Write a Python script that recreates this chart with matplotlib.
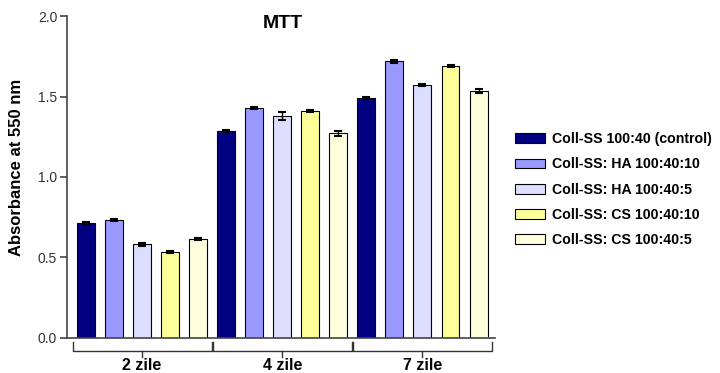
import matplotlib.pyplot as plt
import numpy as np

plt.rcParams['font.family'] = ['Liberation Sans', 'DejaVu Sans']

groups = ["2 zile", "4 zile", "7 zile"]
series = ["Coll-SS 100:40 (control)", "Coll-SS: HA 100:40:10", "Coll-SS: HA 100:40:5",
          "Coll-SS: CS 100:40:10", "Coll-SS: CS 100:40:5"]
colors = ["#000080", "#9999FF", "#DDDDFF", "#FFFF99", "#FFFFDD"]

# absorbance per series, one value per group
values = [
    [0.714, 1.286, 1.492],
    [0.735, 1.430, 1.718],
    [0.582, 1.377, 1.571],
    [0.534, 1.410, 1.691],
    [0.613, 1.271, 1.534],
]
errors = [
    [0.004, 0.005, 0.007],
    [0.007, 0.005, 0.007],
    [0.009, 0.025, 0.008],
    [0.005, 0.004, 0.007],
    [0.005, 0.015, 0.010],
]

fig = plt.figure(figsize=(7.2, 3.73), dpi=100)
ax = fig.add_axes([0.093, 0.094, 0.595, 0.863])

n = len(series)
for i in range(n):
    x = np.arange(len(groups)) * n + i
    ax.bar(x, values[i], width=0.64, color=colors[i], edgecolor="black",
           linewidth=0.8, label=series[i], zorder=2)
    ax.errorbar(x, values[i], yerr=errors[i], fmt="none", ecolor="black",
                elinewidth=1, capsize=3, capthick=1.5, zorder=3)

ax.set_xlim(-0.68, 14.6)
ax.set_ylim(0, 2.0)
ax.set_yticks([0.0, 0.5, 1.0, 1.5, 2.0])
ax.set_yticklabels(["0.0", "0.5", "1.0", "1.5", "2.0"])
ax.set_xticks([])
for s in ["top", "right"]:
    ax.spines[s].set_visible(False)
for s in ["left", "bottom"]:
    ax.spines[s].set_color("#444444")
    ax.spines[s].set_linewidth(1.2)
ax.tick_params(axis="y", length=5, width=1.2, color="#444444",
               labelsize=10, labelcolor="#333333", pad=2)

fig.text(17 / 720, 1 - 167 / 373, "Absorbance at 550 nm", rotation=90,
         ha="center", va="center", fontsize=12, fontweight="bold")
fig.text(283 / 720, 1 - 24 / 373, "MTT", ha="center", va="center",
         fontsize=14, fontweight="bold")

# group brackets under the axis
trans = ax.get_xaxis_transform()
for g, name in enumerate(groups):
    x0 = g * n - 0.48
    x1 = g * n + n - 1 + 0.48
    xm = (x0 + x1) / 2
    y_top, y_bot = -0.012, -0.04
    ax.plot([x0, x0, x1, x1], [y_top, y_bot, y_bot, y_top], color="#333333",
            lw=1.0, transform=trans, clip_on=False)
    ax.plot([xm, xm], [y_bot, y_bot - 0.018], color="#333333", lw=1.0,
            transform=trans, clip_on=False)
    ax.text(xm, -0.062, name, transform=trans, ha="center", va="top",
            fontsize=11.5, fontweight="bold")

ax.legend(loc="upper left", bbox_to_anchor=(0.706, 0.664), bbox_transform=fig.transFigure,
          frameon=False, handlelength=2.1, handleheight=0.7,
          labelspacing=0.78, handletextpad=0.45, borderpad=0,
          prop={"weight": "bold", "size": 10.2})

plt.savefig("out.png", dpi=100)
